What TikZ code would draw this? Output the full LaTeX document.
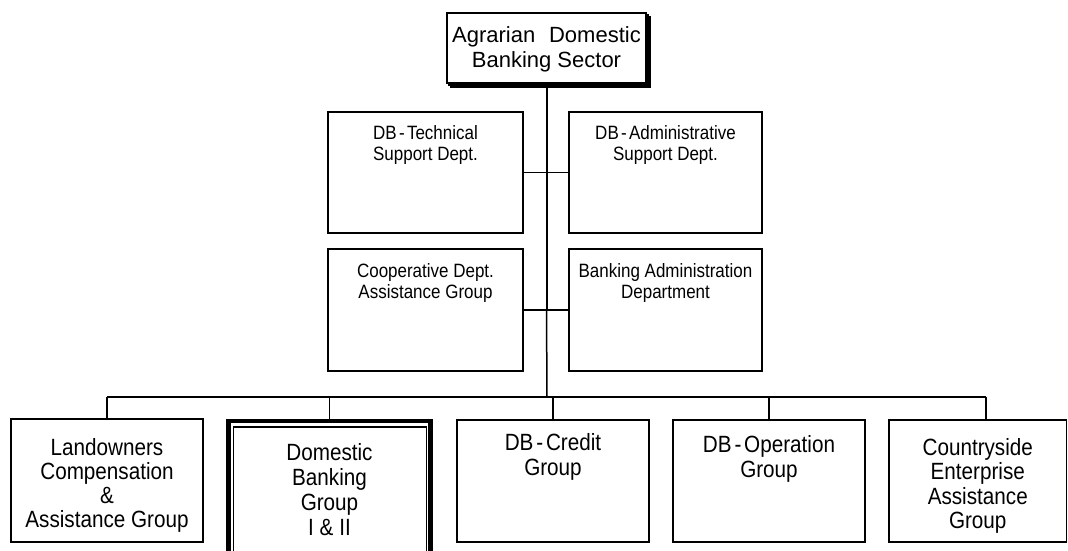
\documentclass[tikz,border=0pt]{standalone}
\usepackage{fontspec}
\setmainfont{Liberation Sans}[FakeStretch=0.88]
\newfontfamily\headfont{Liberation Sans}
\usetikzlibrary{positioning}
% hyphen with a little air on each side, as in the DB- names
\newcommand\dbh{\kern0.12em-\kern0.12em}
\begin{document}
\begin{tikzpicture}[x=1pt,y=-1pt,
  box/.style={draw, line width=1.5pt, inner sep=0pt, outer sep=0pt, fill=white},
  link/.style={line width=1.5pt},
  trunk/.style={line width=2pt},
  txt/.style={inner sep=0pt, align=center, anchor=north},
  toptxt/.style={txt, font=\headfont\fontsize{22}{25}\selectfont},
  midtxt/.style={txt, font=\fontsize{19.3}{21}\selectfont},
  bottxt/.style={txt, font=\fontsize{23.5}{25}\selectfont},
]
\clip (0,0) rectangle (1068,550);
\fill[white] (0,0) rectangle (1068,550);

% head office with stacked shadow
\node[box, line width=1.2pt, minimum width=199pt, minimum height=70pt] (topsh2) at (550.5,52) {};
\node[box, line width=1.2pt, minimum width=199pt, minimum height=70pt] (topsh1) at (548.5,50) {};
\node[box, minimum width=199pt, minimum height=70pt] (top) at (546.5,48) {};

% staff departments
\node[box, minimum width=195pt, minimum height=121pt] (tech)  at (425.5,172.5) {};
\node[box, minimum width=193pt, minimum height=121pt] (admin) at (665.5,172.5) {};
\node[box, minimum width=195pt, minimum height=122pt] (coop)  at (425.5,310) {};
\node[box, minimum width=193pt, minimum height=122pt] (bank)  at (665.5,310) {};

% line groups
\node[box, minimum width=192pt, minimum height=123pt] (land) at (107,480.5) {};
\node[box, line width=4.2pt, minimum width=202pt, minimum height=144pt] (dom) at (329.5,493) {};
\node[box, line width=1.5pt, minimum width=193pt, minimum height=138pt] (domin) at (330,496) {};
\node[box, minimum width=192pt, minimum height=122pt] (credit)  at (553,481) {};
\node[box, minimum width=192pt, minimum height=122pt] (oper)    at (769,481) {};
\node[box, minimum width=177.5pt, minimum height=122pt] (country) at (977.75,481) {};

% connectors
\coordinate (j2) at (top.south |- coop.east);
\coordinate (busC) at (547,397);
\coordinate (busL) at (land.north |- busC);
\coordinate (busR) at (986,397);
\draw[trunk] (top.south) -- (j2);
\draw[link] (j2) -- (busC);
\draw[link] (tech.east) -- (admin.west);
\draw[link] (coop.east) -- (bank.west);
\draw[link] (busL) -- (busR);
\draw[link] (busL) -- (land.north);
\draw[link] (dom.north |- busC) -- (dom.north);
\draw[link] (credit.north |- busC) -- (credit.north);
\draw[link] (oper.north |- busC) -- (oper.north);
\draw[link] (busR) -- (busR |- country.north);

% labels
\node[toptxt] (t-top) at ([yshift=-13pt]top.north) {Agrarian\hspace{0.35em} Domestic\\Banking Sector};
\node[midtxt] (t-tech)  at ([yshift=-13pt]tech.north)  {DB\dbh Technical\\Support Dept.};
\node[midtxt] (t-admin) at ([yshift=-13pt]admin.north) {DB\dbh Administrative\\Support Dept.};
\node[midtxt] (t-coop)  at ([yshift=-14pt]coop.north)  {Cooperative Dept.\\Assistance Group};
\node[midtxt] (t-bank)  at ([yshift=-14pt]bank.north)  {Banking Administration\\Department};
\node[bottxt, font=\fontsize{23.5}{24}\selectfont] (t-land) at ([yshift=-19pt]land.north) {Landowners\\Compensation\\\&\\Assistance Group};
\node[bottxt] (t-dom)     at ([yshift=-22pt]dom.north)     {Domestic\\Banking\\Group\\I \& II};
\node[bottxt] (t-credit)  at ([yshift=-13pt]credit.north)  {DB\dbh Credit\\Group};
\node[bottxt] (t-oper)    at ([yshift=-15pt]oper.north)    {DB\dbh Operation\\Group};
\node[bottxt, font=\fontsize{23.5}{24.5}\selectfont] (t-country) at ([yshift=-18pt]country.north) {Countryside\\Enterprise\\Assistance\\Group};
\end{tikzpicture}
\end{document}
